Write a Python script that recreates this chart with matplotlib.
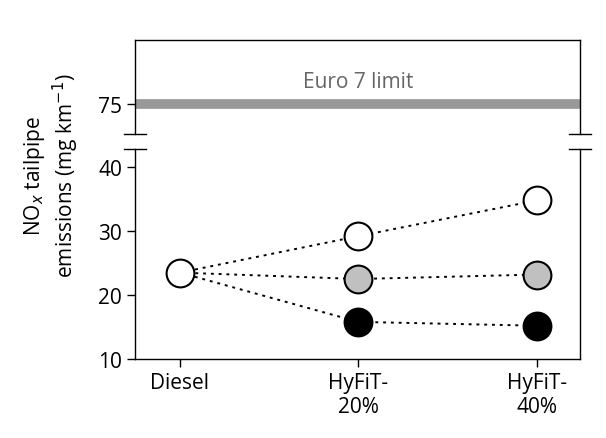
import matplotlib.pyplot as plt
from matplotlib.lines import Line2D

plt.rcParams['font.family'] = ['Open Sans', 'DejaVu Sans']

categories = ['Diesel', 'HyFiT-\n20%', 'HyFiT-\n40%']
high = [23.5, 29.2, 34.8]   # white markers
mid = [23.5, 22.5, 23.2]    # grey markers
low = [23.5, 15.8, 15.2]    # black markers
euro7 = 75

fig = plt.figure(figsize=(6.06, 4.39), dpi=100)
ax_top = fig.add_axes([0.223, 0.692, 0.734, 0.215])
ax = fig.add_axes([0.223, 0.18, 0.734, 0.478])

xs = range(len(categories))
for vals, fc in [(high, 'white'), (mid, '#c0c0c0'), (low, 'black')]:
    ax.plot(xs, vals, ls=(0, (1.5, 2.5)), color='black', lw=1.4, zorder=1)
    ax.plot(list(xs)[1:], vals[1:], 'o', ms=20, mfc=fc, mec='black', mew=1.5, zorder=3)
ax.plot([0], [high[0]], 'o', ms=20, mfc='white', mec='black', mew=1.5, zorder=4)

ax.set_xlim(-0.25, 2.24)
ax.set_ylim(10, 42.8)
ax.set_yticks([10, 20, 30, 40])
ax.set_xticks(list(xs))
ax.set_xticklabels(categories, fontsize=15)
ax.tick_params(labelsize=15, width=1, length=6)
ax.spines['top'].set_visible(False)

ax_top.axhline(euro7, color='#999999', lw=7)
ax_top.text(1, euro7 + 1.8, 'Euro 7 limit', ha='center', va='bottom', fontsize=15, color='#666666')
ax_top.set_xlim(-0.25, 2.24)
ax_top.set_ylim(70.3, 85)
ax_top.set_yticks([75])
ax_top.set_xticks([])
ax_top.tick_params(labelsize=15, width=1, length=6)
ax_top.spines['bottom'].set_visible(False)

for a in (ax, ax_top):
    for s in a.spines.values():
        s.set_linewidth(1)

# break marks, centred on each side spine
for xf in (0.223, 0.957):
    for yf in (0.692, 0.658):
        fig.add_artist(Line2D([xf - 0.018, xf + 0.018], [yf, yf], color='black', lw=1))

fig.text(0.085, 0.6, 'NO$_x$ tailpipe\nemissions (mg km$^{-1}$)', rotation=90,
         ha='center', va='center', fontsize=15, linespacing=1.2)

fig.savefig('out.png', dpi=100)
